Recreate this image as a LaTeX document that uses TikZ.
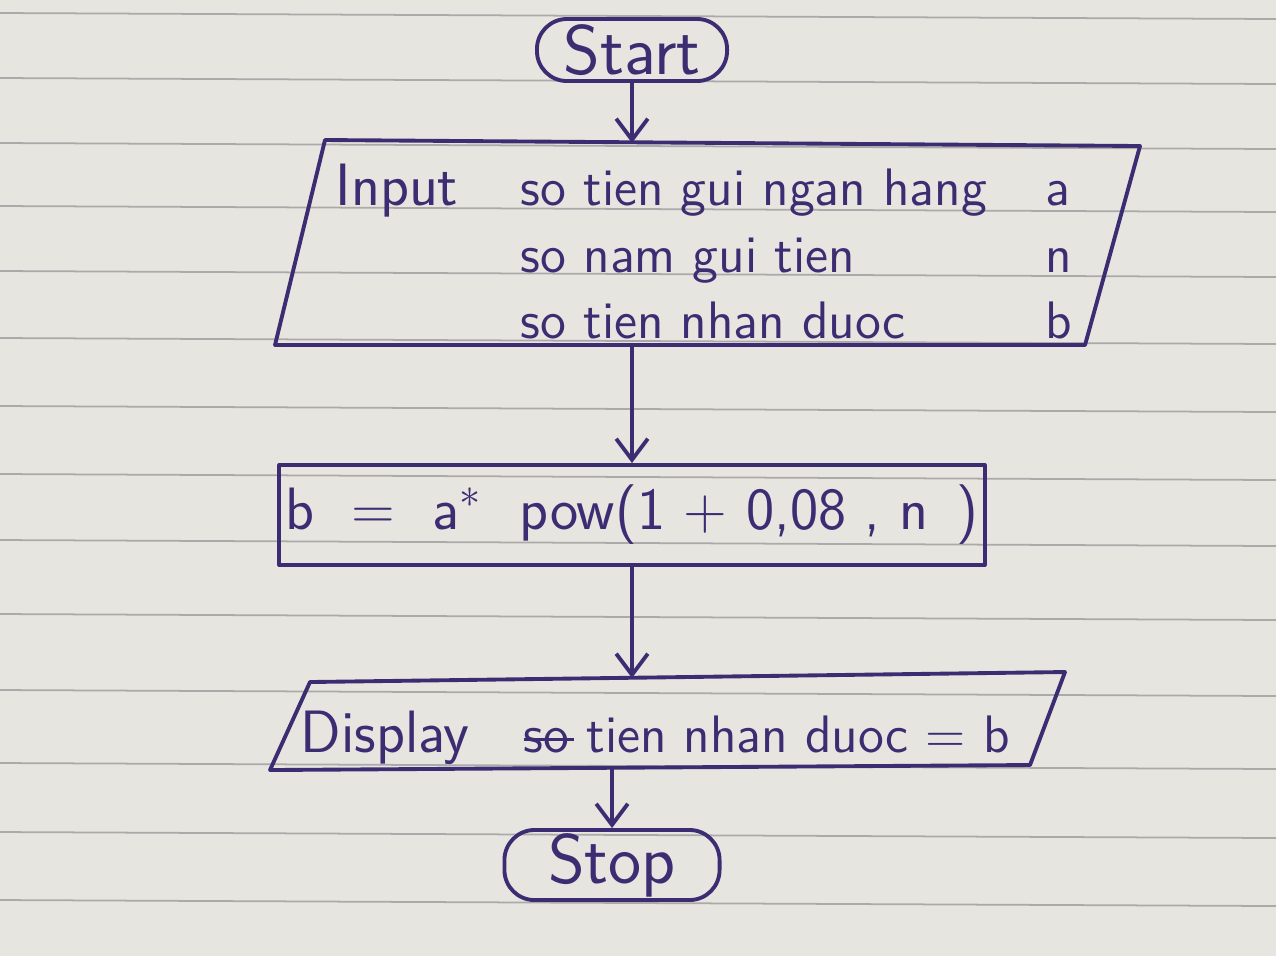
\documentclass[tikz,border=0pt]{standalone}
\usetikzlibrary{arrows.meta}
\definecolor{ink}{RGB}{60,45,115}
\definecolor{paper}{RGB}{231,229,223}
\definecolor{ruling}{RGB}{170,170,170}
\newcommand{\crossedword}[1]{\leavevmode\rlap{\rule[0.45ex]{0.95em}{0.9pt}}#1}
\begin{document}
\begin{tikzpicture}[x=0.01cm, y=-0.01cm,
  inkline/.style={draw=ink, line width=1.1pt, line join=round},
  terminal/.style={inkline, rectangle, rounded corners=0.3cm, inner sep=0pt, text=ink,
    font=\sffamily\fontsize{20}{24}\selectfont},
  procbox/.style={inkline, rectangle, inner sep=0pt, text=ink,
    font=\sffamily\fontsize{17}{20}\selectfont},
  flow/.style={inkline, -{Straight Barb[length=6pt,width=9pt]}},
  hand/.style={text=ink, font=\sffamily\fontsize{15}{18}\selectfont, inner sep=0pt, anchor=base west},
]
  % Paper with ruled lines
  \fill[paper] (0,0) rectangle (1276,956);
  \useasboundingbox (0,0) rectangle (1276,956);
  \foreach \y in {13,78,143,206,271,338,406,474,540,614,690,763,832,900}
    \draw[ruling, line width=0.5pt] (0,\y) -- (1276,\y+6);

  % Start
  \node[terminal, minimum width=1.9cm, minimum height=0.62cm] (start) at (632,50) {Start};

  % Input block
  \draw[inkline] (325,140) -- (1140,146) -- (1085,345) -- (275,345) -- cycle;
  \coordinate (input-n) at (632,143);
  \coordinate (input-s) at (632,345);
  \node[hand, font=\sffamily\fontsize{17}{20}\selectfont] (inlabel) at (335,205) {Input};
  \node[hand] (inline1) at (520,205) {so tien gui ngan hang};
  \node[hand] (inline2) at (520,272) {so nam gui tien};
  \node[hand] (inline3) at (520,338) {so tien nhan duoc};
  \node[hand] (vara) at (1045,205) {a};
  \node[hand] (varn) at (1045,272) {n};
  \node[hand] (varb) at (1045,338) {b};

  % Process
  \node[procbox, minimum width=7.05cm, minimum height=1.0cm] (calc) at (632,515)
    {b \ = \ a$^*$ \ pow(1 + 0,08 , n \,)};

  % Display block
  \draw[inkline] (310,682) -- (1065,672) -- (1030,765) -- (270,770) -- cycle;
  \coordinate (display-n) at (632,678);
  \coordinate (display-s) at (612,768);
  \node[hand, font=\sffamily\fontsize{17}{20}\selectfont] (outlabel) at (300,752) {Display};
  \node[hand] (outtext) at (523,752) {\crossedword{so} tien nhan duoc = b};

  % Stop
  \node[terminal, minimum width=2.15cm, minimum height=0.7cm] (stop) at (612,865) {Stop};

  % Connectors
  \draw[flow] (start.south) -- (input-n);
  \draw[flow] (input-s) -- (calc.north);
  \draw[flow] (calc.south) -- (display-n);
  \draw[flow] (display-s) -- (stop.north);
\end{tikzpicture}
\end{document}
